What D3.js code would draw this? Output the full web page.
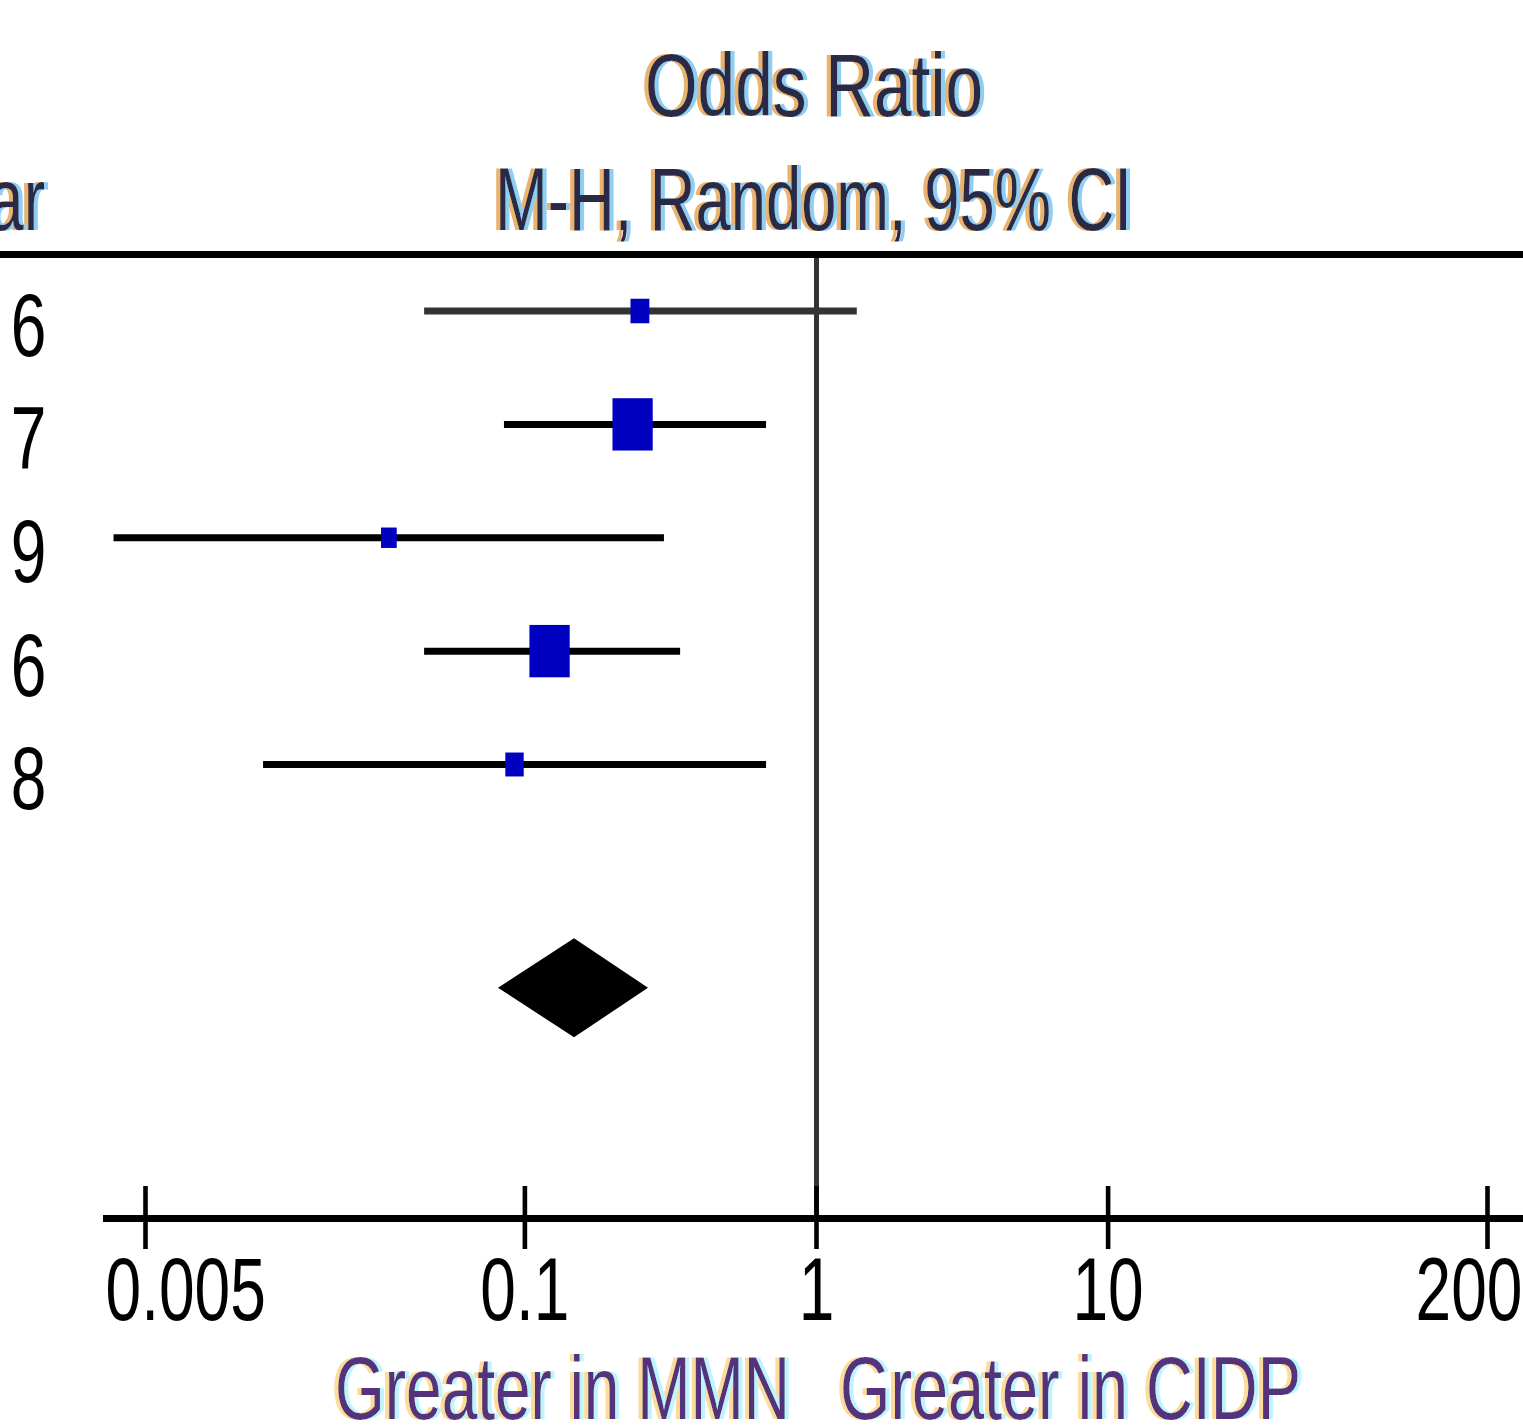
<!DOCTYPE html>
<html>
<head>
<meta charset="utf-8">
<script src="https://cdn.jsdelivr.net/npm/d3@7"></script>
<style>
  html, body { margin: 0; padding: 0; background: #fff; }
  svg { display: block; }
  text { font-family: "Liberation Sans", Arial, sans-serif; }
</style>
</head>
<body>
<script>
// ---------- data ----------
const studyYears   = ["2006", "2007", "2009", "2016", "2018"];
const oddsRatio    = [0.249, 0.235, 0.0343, 0.122, 0.0925];
const ciLower      = [0.0453, 0.0851, 0.0039, 0.0453, 0.0127];
const ciUpper      = [1.38, 0.674, 0.301, 0.342, 0.674];
const studyWeight  = [8.5, 38.7, 5.9, 38.8, 8.1];
const pooledOR     = 0.148;
const pooledLower  = 0.0812;
const pooledUpper  = 0.2654;
const tickValues   = [0.005, 0.1, 1, 10, 200];
const tickLabels   = ["0.005", "0.1", "1", "10", "200"];
const titleText    = "Odds Ratio";
const subtitleText = "M-H, Random, 95% CI";
const yearHeader   = "Year";
const leftFavour   = "Greater in MMN";
const rightFavour  = "Greater in CIDP";

// ---------- layout ----------
const W = 1523, H = 1425;
const FS = 89, SX = 0.72;

const svg = d3.select("body").append("svg")
  .attr("width", W).attr("height", H).attr("viewBox", `0 0 ${W} ${H}`);

const defs = svg.append("defs");
function fringe(id, leftCol, rightCol) {
  const f = defs.append("filter").attr("id", id)
    .attr("x", "-5%").attr("y", "-10%").attr("width", "110%").attr("height", "120%");
  f.append("feOffset").attr("in", "SourceAlpha").attr("dx", -5).attr("dy", 0).attr("result", "lo");
  f.append("feFlood").attr("flood-color", leftCol).attr("result", "lc");
  f.append("feComposite").attr("in", "lc").attr("in2", "lo").attr("operator", "in").attr("result", "left");
  f.append("feOffset").attr("in", "SourceAlpha").attr("dx", 5).attr("dy", 0).attr("result", "ro");
  f.append("feFlood").attr("flood-color", rightCol).attr("result", "rc");
  f.append("feComposite").attr("in", "rc").attr("in2", "ro").attr("operator", "in").attr("result", "right");
  const m = f.append("feMerge");
  m.append("feMergeNode").attr("in", "left");
  m.append("feMergeNode").attr("in", "right");
  m.append("feMergeNode").attr("in", "SourceGraphic");
}
fringe("fringeTop", "#e9b470", "#8fcdf3");
fringe("fringeBottom", "#fbdc9c", "#bff4ff");

// text squeezed horizontally to a target width, anchored at (ax, ay)
function fittedText(str, ax, ay, anchor, targetWidth, fill, filter) {
  const t = svg.append("text")
    .attr("text-anchor", anchor)
    .attr("font-size", FS)
    .attr("fill", fill)
    .text(str);
  if (filter) t.attr("filter", filter);
  const natural = t.node().getComputedTextLength();
  const sx = targetWidth / natural;
  t.attr("transform", `translate(${ax},${ay}) scale(${sx},1)`);
  return t;
}

const x = d3.scaleLog().domain([0.005, 200]).range([145, 1487]);
const y = d3.scaleLinear().domain([0, 4]).range([311, 764.5]);
const summaryRow = 6;

const axisY = 1218.5, topLineY = 254.5;

// top rule
svg.append("line")
  .attr("x1", 0).attr("x2", W).attr("y1", topLineY).attr("y2", topLineY)
  .attr("stroke", "#000").attr("stroke-width", 7);

// null line
svg.append("line")
  .attr("x1", x(1) + 0.5).attr("x2", x(1) + 0.5)
  .attr("y1", topLineY + 3.5).attr("y2", axisY - 3.5)
  .attr("stroke", "#333").attr("stroke-width", 5);

// headers
fittedText(titleText, x(1) - 2, 116, "middle", 338, "#2c2946", "url(#fringeTop)");
fittedText(subtitleText, x(1) - 2.5, 230, "middle", 637, "#2c2946", "url(#fringeTop)");

svg.append("text")
  .attr("transform", `translate(45,230) scale(${SX},1)`)
  .attr("text-anchor", "end")
  .attr("font-size", FS)
  .attr("fill", "#2c2946").attr("filter", "url(#fringeTop)")
  .text(yearHeader);

// study rows
const studies = studyYears.map((yr, i) => ({
  yr, i, or: oddsRatio[i], lo: ciLower[i], hi: ciUpper[i], w: studyWeight[i]
}));

const yearSpacing = 15;                       // unscaled letter-spacing
const yearAnchor = 46.4 + yearSpacing * SX;   // compensates the trailing spacing
svg.append("g").selectAll("text").data(studies).join("text")
  .attr("transform", d => `translate(${yearAnchor},${y(d.i) + 44.5}) scale(${SX},1)`)
  .attr("text-anchor", "end")
  .attr("font-size", FS)
  .attr("letter-spacing", yearSpacing)
  .attr("fill", "#000")
  .text(d => d.yr);

svg.append("g").selectAll("line").data(studies).join("line")
  .attr("x1", d => x(d.lo)).attr("x2", d => x(d.hi))
  .attr("y1", d => y(d.i)).attr("y2", d => y(d.i))
  .attr("stroke", d => (d.lo < 1 && d.hi > 1) ? "#333" : "#000")
  .attr("stroke-width", 7);

const areaPerWeight = 54.4, boxAspect = 1.3;
const boxW = d => Math.sqrt(areaPerWeight * d.w / boxAspect);
const boxH = d => boxW(d) * boxAspect;

svg.append("g").selectAll("rect").data(studies).join("rect")
  .attr("x", d => x(d.or) - boxW(d) / 2)
  .attr("y", d => y(d.i) - boxH(d) / 2)
  .attr("width", boxW).attr("height", boxH)
  .attr("fill", "#0000c0");

// pooled diamond
const dy = 49.5, sy = y(summaryRow) - 3.5;
svg.append("polygon")
  .attr("points", [
    [x(pooledLower), sy], [x(pooledOR), sy - dy],
    [x(pooledUpper), sy], [x(pooledOR), sy + dy]
  ].map(p => p.join(",")).join(" "))
  .attr("fill", "#000");

// axis
svg.append("line")
  .attr("x1", 103).attr("x2", W).attr("y1", axisY).attr("y2", axisY)
  .attr("stroke", "#000").attr("stroke-width", 7);

const axisTop = 1186;
const axis = d3.axisBottom(x)
  .tickValues(tickValues)
  .tickFormat((d, i) => tickLabels[i])
  .tickSize(63).tickSizeOuter(0);

const gAxis = svg.append("g").attr("transform", `translate(0,${axisTop})`).call(axis);
gAxis.select(".domain").remove();
gAxis.selectAll(".tick line").attr("stroke", "#000").attr("stroke-width", 4.6);
const clampMin = 105, clampMax = 1522;
gAxis.selectAll(".tick text")
  .attr("font-family", "Liberation Sans, Arial, sans-serif")
  .attr("font-size", FS)
  .attr("fill", "#000")
  .attr("y", 1320 - axisTop).attr("dy", 0)
  .attr("text-anchor", "middle")
  .attr("transform", `scale(${SX},1)`)
  .each(function(d) {
    const w = this.getComputedTextLength() * SX;
    const cx = x(d);
    let left = cx - w / 2, shift = 0;
    if (left < clampMin) shift = clampMin - left;
    if (cx + w / 2 > clampMax) shift = clampMax - (cx + w / 2);
    d3.select(this).attr("x", shift / SX);
  });

// favour labels
fittedText(leftFavour, x(1) - 26, 1419, "end", 455, "#55307c", "url(#fringeBottom)");
fittedText(rightFavour, x(1) + 24, 1419, "start", 461, "#55307c", "url(#fringeBottom)");
</script>
</body>
</html>
